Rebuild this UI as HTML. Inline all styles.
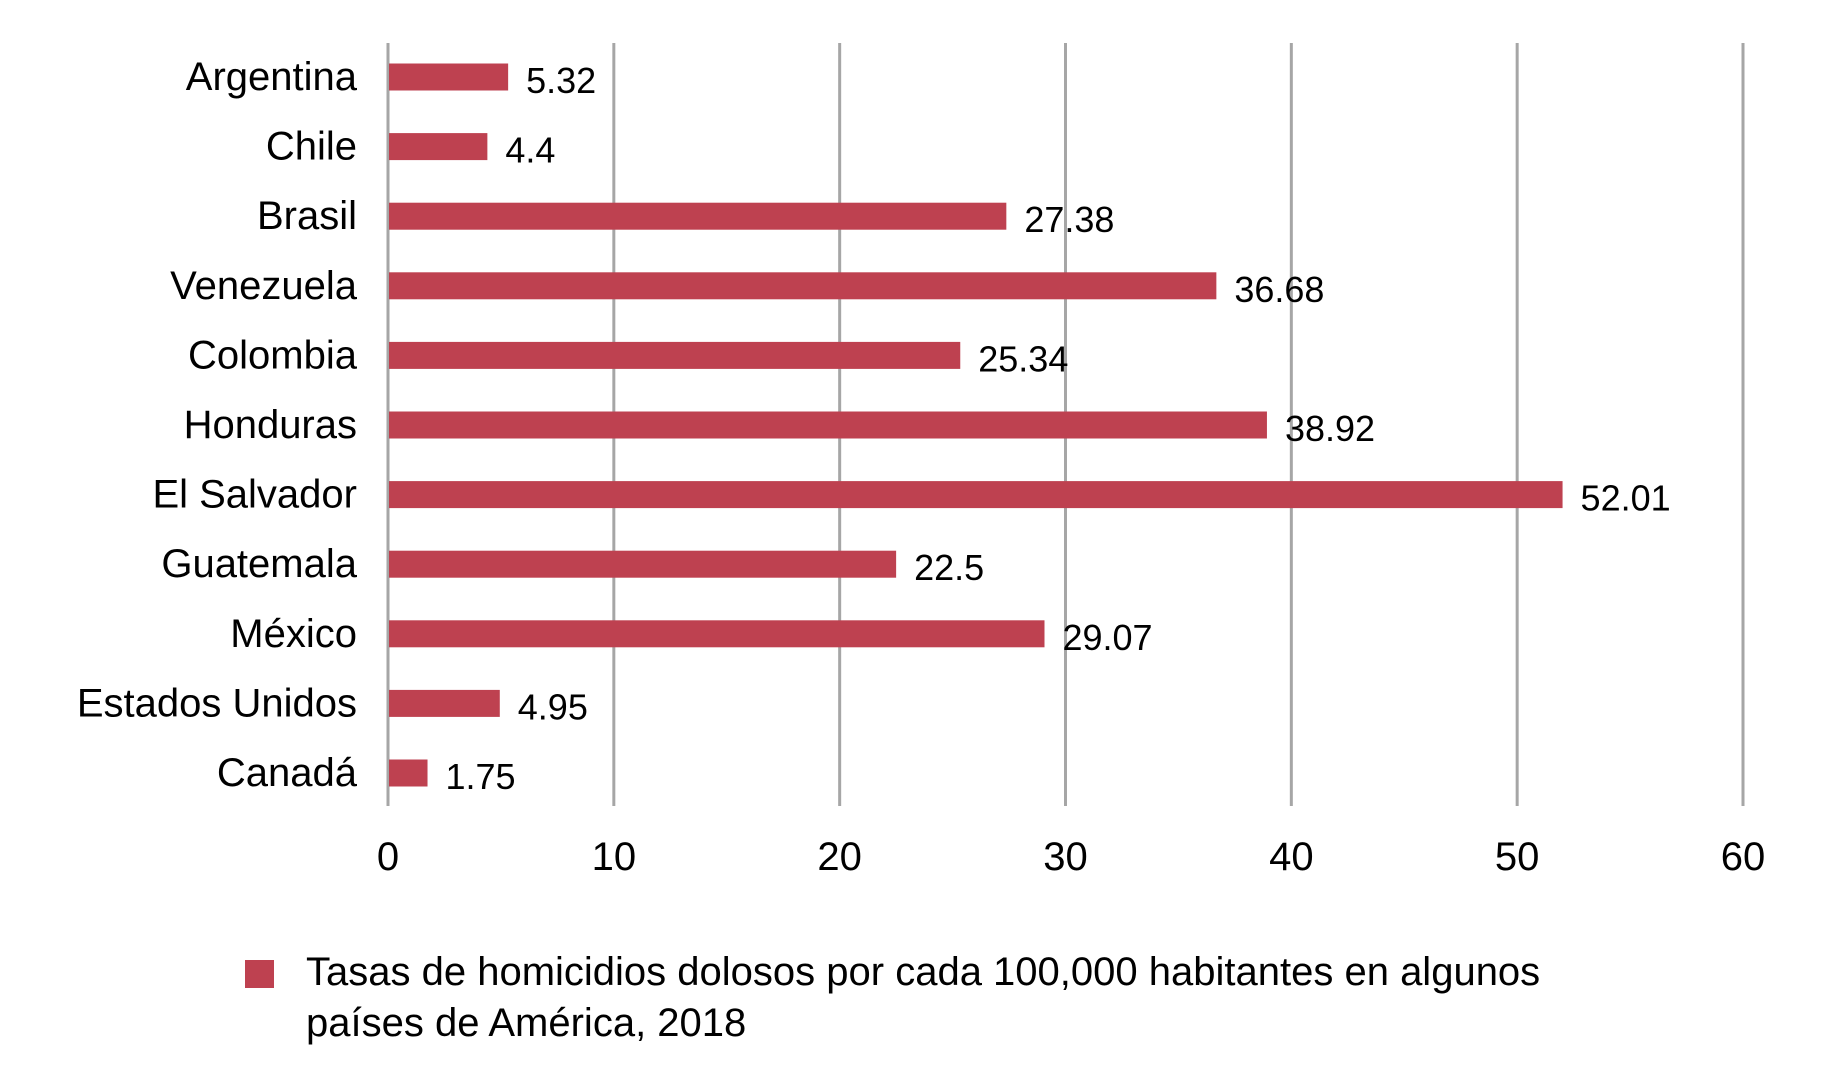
<!DOCTYPE html>
<html><head><meta charset="utf-8"><style>
body{margin:0;background:#fff}
svg{display:block;font-family:"Liberation Sans",sans-serif}
</style></head><body>
<svg id="c" width="1822" height="1076"></svg>
<script>
const categories=["Argentina","Chile","Brasil","Venezuela","Colombia","Honduras","El Salvador","Guatemala","México","Estados Unidos","Canadá"];
const values=[5.32,4.4,27.38,36.68,25.34,38.92,52.01,22.5,29.07,4.95,1.75];
const valueLabels=["5.32","4.4","27.38","36.68","25.34","38.92","52.01","22.5","29.07","4.95","1.75"];
const ticks=[0,10,20,30,40,50,60];
(function(){
const NS="http://www.w3.org/2000/svg";
const svg=document.getElementById("c");
const x0=388,x1=1743,yTop=43,yBot=806,yFirst=77,yStep=69.6,barH=27;
const xs=v=>x0+(v/60)*(x1-x0);
const ys=i=>yFirst+i*yStep;
function mk(t,a,txt){const e=document.createElementNS(NS,t);for(const k in a)e.setAttribute(k,a[k]);if(txt!=null)e.textContent=txt;svg.appendChild(e);return e;}
ticks.forEach(t=>{
 const l=mk("line",{x1:xs(t),x2:xs(t),y1:yTop,y2:yBot,stroke:"#a6a6a6","stroke-width":3});
 
 
 const tx=mk("text",{x:xs(t),y:870,"font-size":40,"text-anchor":"middle",fill:"#000"},String(t));
 
 
});
categories.forEach((c,i)=>{
 const cy=ys(i);
 const r=mk("rect",{x:x0+1,y:cy-barH/2,width:xs(values[i])-x0-1,height:barH,fill:"#be4150"});
 
 
 const lb=mk("text",{x:357,y:cy+13,"font-size":40,"text-anchor":"end",fill:"#000"},c);
 
 
 const vl=mk("text",{x:xs(values[i])+18,y:cy+16,"font-size":36,fill:"#000"},valueLabels[i]);
 
 
});
const lg=mk("rect",{x:245,y:960,width:29,height:28,fill:"#be4150"});


const t1=mk("text",{x:306,y:985,"font-size":40,fill:"#000"},"Tasas de homicidios dolosos por cada 100,000 habitantes en algunos");


const t2=mk("text",{x:306,y:1036,"font-size":40,fill:"#000"},"países de América, 2018");


})();
</script>
</body></html>
